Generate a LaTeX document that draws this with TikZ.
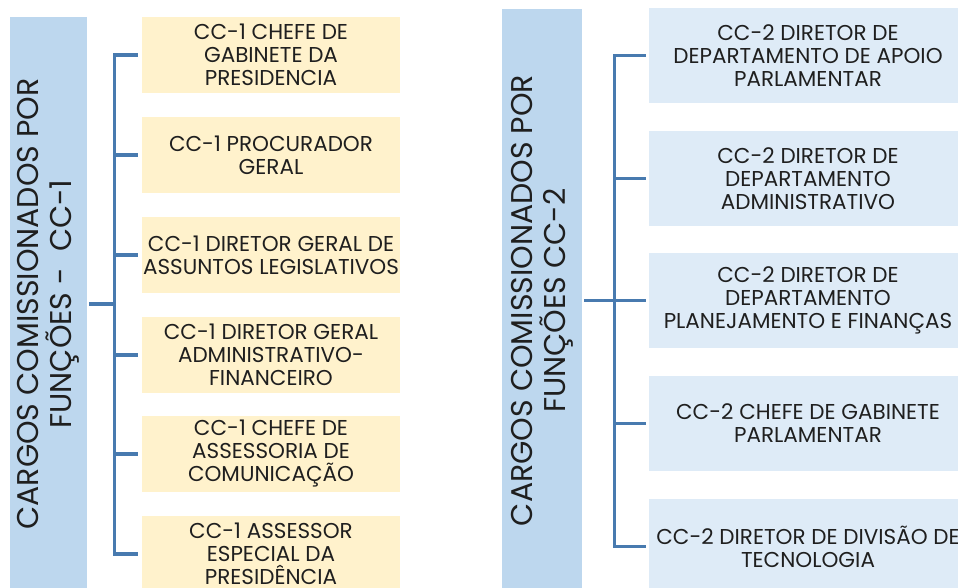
\documentclass[tikz,border=0pt]{standalone}
\usepackage{fontspec}
\setmainfont{Poppins}
\definecolor{panelblue}{HTML}{BDD7EE}
\definecolor{boxyellow}{HTML}{FFF2CC}
\definecolor{boxblue}{HTML}{DEEBF7}
\definecolor{linkblue}{RGB}{72,122,175}
\definecolor{txt}{HTML}{1F1F1F}
\begin{document}
\begin{tikzpicture}[x=1pt,y=-1pt,
  panel/.style={fill=panelblue, inner sep=0pt},
  vtext/.style={rotate=90, inner sep=0pt, align=center, text=txt, font=\fontsize{30}{33}\selectfont},
  ybox/.style={fill=boxyellow, minimum width=258pt, minimum height=76pt,
    inner sep=0pt, align=center, text=txt, font=\fontsize{21.5}{23}\selectfont},
  bbox/.style={fill=boxblue, minimum width=318pt, minimum height=95pt,
    inner sep=0pt, align=center, text=txt, font=\fontsize{21.5}{23}\selectfont},
  conn/.style={draw=linkblue, line width=3.3pt}]
\useasboundingbox (0,0) rectangle (958,587);
\clip (0,0) rectangle (958,587);
% left group
\node[panel, minimum width=77pt, minimum height=574pt] (pL) at (48.5,304) {};
\node[vtext] (tL) at (pL.center) {CARGOS COMISSIONADOS POR\\FUNÇÕES - ~CC-1};
\node[ybox] (l1) at (271,55) {CC-1 CHEFE DE\\GABINETE DA\\PRESIDENCIA};
\node[ybox] (l2) at (271,155) {CC-1 PROCURADOR\\GERAL};
\node[ybox] (l3) at (271,255) {CC-1 DIRETOR GERAL DE\\ASSUNTOS LEGISLATIVOS};
\node[ybox] (l4) at (271,355) {CC-1 DIRETOR GERAL\\ADMINISTRATIVO-\\FINANCEIRO};
\node[ybox] (l5) at (271,454) {CC-1 CHEFE DE\\ASSESSORIA DE\\COMUNICAÇÃO};
\node[ybox] (l6) at (271,554) {CC-1 ASSESSOR\\ESPECIAL DA\\PRESIDÊNCIA};
\draw[conn] ([xshift=2pt]pL.east) -- ++(26,0);
\draw[conn] ([xshift=-4pt]l1.west) -- ++(-23,0) |- ([xshift=-4pt]l6.west);
\foreach \b in {l2,l3,l4,l5}{\draw[conn] ([xshift=-4pt]\b.west) -- ++(-24.6,0);}
% right group
\node[panel, minimum width=80pt, minimum height=584pt] (pR) at (542,300.5) {};
\node[vtext] (tR) at (pR.center) {CARGOS COMISSIONADOS POR\\FUNÇÕES CC-2};
\node[bbox] (r1) at (808,55.5) {CC-2 DIRETOR DE\\DEPARTAMENTO DE APOIO\\PARLAMENTAR};
\node[bbox] (r2) at (808,178.5) {CC-2 DIRETOR DE\\DEPARTAMENTO\\ADMINISTRATIVO};
\node[bbox] (r3) at (808,300.5) {CC-2 DIRETOR DE\\DEPARTAMENTO\\PLANEJAMENTO E FINANÇAS};
\node[bbox] (r4) at (808,423.5) {CC-2 CHEFE DE GABINETE\\PARLAMENTAR};
\node[bbox] (r5) at (808,546.5) {CC-2 DIRETOR DE DIVISÃO DE\\TECNOLOGIA};
\draw[conn] ([xshift=2pt]pR.east) -- ([xshift=-3pt]r3.west);
\draw[conn] ([xshift=-3pt]r1.west) -- ++(-31,0) |- ([xshift=-3pt]r5.west);
\foreach \b in {r2,r4}{\draw[conn] ([xshift=-3pt]\b.west) -- ++(-32.6,0);}
\end{tikzpicture}
\end{document}
